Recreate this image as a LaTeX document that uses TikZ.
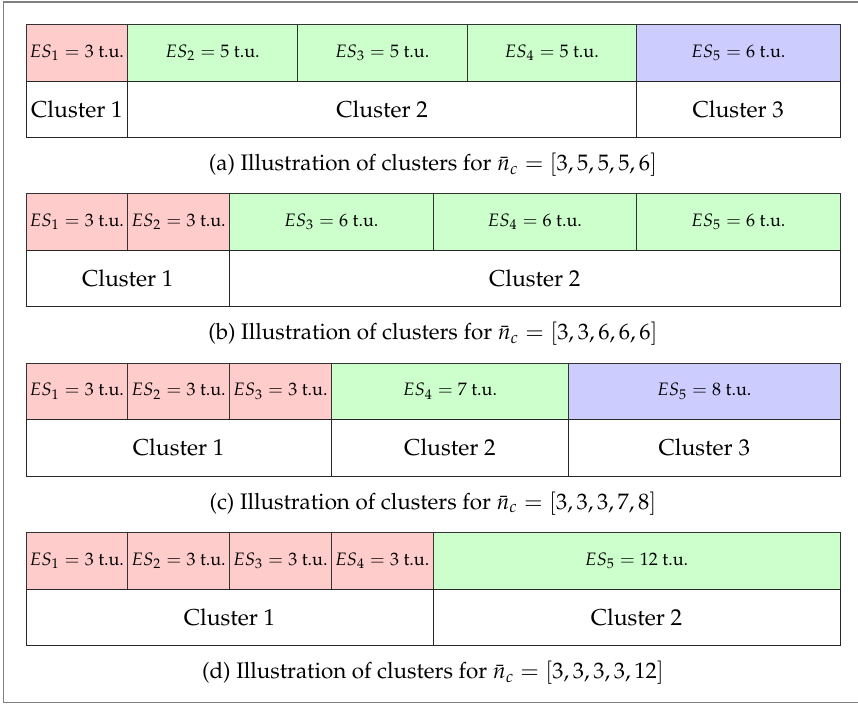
\documentclass[tikz,border=0pt]{standalone}
\usepackage[T1]{fontenc}
\usepackage{mathpazo}
\usepackage{tikz}

\tikzset{
  escell/.style={draw=black!80, anchor=north west, inner sep=0pt, outer sep=0pt,
    minimum height=28.25pt, font=\fontsize{9}{11}\selectfont},
  clcell/.style={draw=black!85, anchor=north west, inner sep=0pt, outer sep=0pt,
    minimum height=28.25pt, font=\fontsize{11.5}{14}\selectfont},
  subcap/.style={font=\fontsize{11.2}{14}\selectfont, inner sep=0pt}
}

\begin{document}
\begin{tikzpicture}[x=0.5pt, y=-0.5pt]
  \useasboundingbox (0,0) rectangle (858,704);
  % Outer frame (right side cut off)
  \draw[gray, line width=0.8pt] (860,2) -- (3.5,2) -- (3.5,702.5) -- (860,702.5);
  % one time unit = 33.917 px, row height = 56.5 px
  % ---- (a) ----
  \foreach \s/\w/\i/\c in {0/3/1/red, 3/5/2/green, 8/5/3/green, 13/5/4/green, 18/6/5/blue} {
    \node[escell, fill=\c!20, minimum width=\w*16.958pt] (a-es\i)
      at (26+\s*33.917, 24.5) {$ES_{\i} = \w$ t.u.};
  }
  \foreach \s/\w/\i in {0/3/1, 3/15/2, 18/6/3} {
    \node[clcell, minimum width=\w*16.958pt] (a-cl\i)
      at (26+\s*33.917, 81) {Cluster \i};
  }
  \node[subcap] (a-cap) at (433,165)
    {(a) Illustration of clusters for $\bar{n}_c = [3,5,5,5,6]$};
  % ---- (b) ----
  \foreach \s/\w/\i/\c in {0/3/1/red, 3/3/2/red, 6/6/3/green, 12/6/4/green, 18/6/5/green} {
    \node[escell, fill=\c!20, minimum width=\w*16.958pt] (b-es\i)
      at (26+\s*33.917, 193.5) {$ES_{\i} = \w$ t.u.};
  }
  \foreach \s/\w/\i in {0/6/1, 6/18/2} {
    \node[clcell, minimum width=\w*16.958pt] (b-cl\i)
      at (26+\s*33.917, 250) {Cluster \i};
  }
  \node[subcap] (b-cap) at (433,334)
    {(b) Illustration of clusters for $\bar{n}_c = [3,3,6,6,6]$};
  % ---- (c) ----
  \foreach \s/\w/\i/\c in {0/3/1/red, 3/3/2/red, 6/3/3/red, 9/7/4/green, 16/8/5/blue} {
    \node[escell, fill=\c!20, minimum width=\w*16.958pt] (c-es\i)
      at (26+\s*33.917, 363) {$ES_{\i} = \w$ t.u.};
  }
  \foreach \s/\w/\i in {0/9/1, 9/7/2, 16/8/3} {
    \node[clcell, minimum width=\w*16.958pt] (c-cl\i)
      at (26+\s*33.917, 419.5) {Cluster \i};
  }
  \node[subcap] (c-cap) at (433,503.5)
    {(c) Illustration of clusters for $\bar{n}_c = [3,3,3,7,8]$};
  % ---- (d) ----
  \foreach \s/\w/\i/\c in {0/3/1/red, 3/3/2/red, 6/3/3/red, 9/3/4/red, 12/12/5/green} {
    \node[escell, fill=\c!20, minimum width=\w*16.958pt] (d-es\i)
      at (26+\s*33.917, 532.5) {$ES_{\i} = \w$ t.u.};
  }
  \foreach \s/\w/\i in {0/12/1, 12/12/2} {
    \node[clcell, minimum width=\w*16.958pt] (d-cl\i)
      at (26+\s*33.917, 589) {Cluster \i};
  }
  \node[subcap] (d-cap) at (433,673)
    {(d) Illustration of clusters for $\bar{n}_c = [3,3,3,3,12]$};
\end{tikzpicture}
\end{document}
